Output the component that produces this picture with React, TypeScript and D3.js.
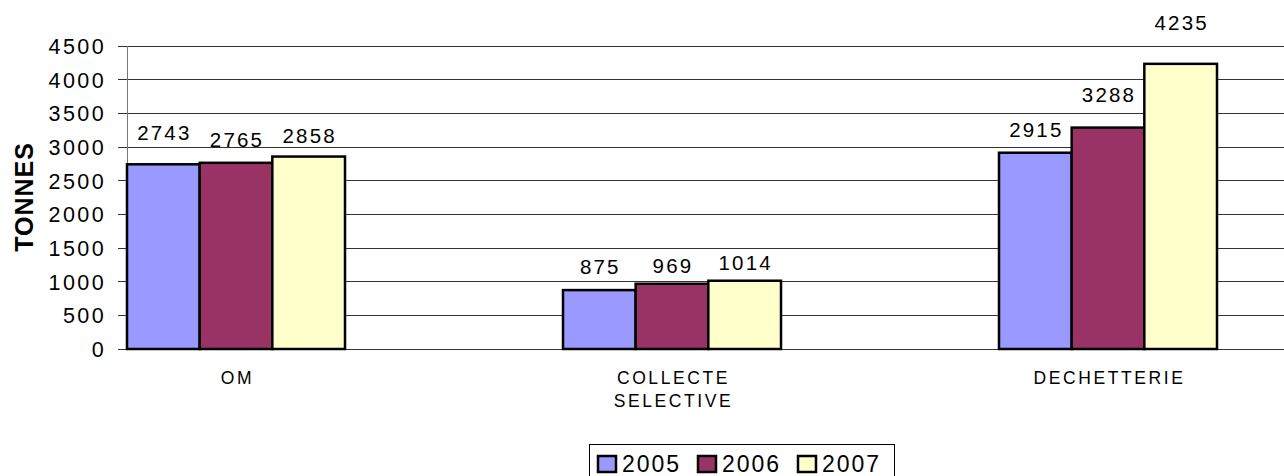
import React from 'react'
import * as d3 from 'd3'

const categories = ['OM', 'COLLECTE SELECTIVE', 'DECHETTERIE']
const years = ['2005', '2006', '2007']
const values2005 = [2743, 875, 2915]
const values2006 = [2765, 969, 3288]
const values2007 = [2858, 1014, 4235]
const yTicks = [0, 500, 1000, 1500, 2000, 2500, 3000, 3500, 4000, 4500]

const colors = ['#9999FF', '#993366', '#FFFFCC']
// label lift above each bar (px), the original chart nudges them to avoid overlap
const labelLift = [
	[24, 16, 14],
	[16, 11, 11],
	[16, 26, 34],
]

const W = 1284
const H = 476
const FONT = '"Liberation Sans", Arial, sans-serif'

export default function App() {
	const series = [values2005, values2006, values2007]

	const x = d3.scaleBand<string>()
		.domain(categories)
		.range([127, 1217])
		.paddingInner(0.5)
		.paddingOuter(0)

	const xInner = d3.scaleBand<string>()
		.domain(years)
		.range([0, x.bandwidth()])

	const y = d3.scaleLinear()
		.domain([0, 4500])
		.range([349, 46])

	return (
		<svg width={W} height={H} style={{position: 'absolute', left: 0, top: 0}} fontFamily={FONT}>
			<rect width={W} height={H} fill="#fff" />

			{/* grid */}
			{yTicks.map(t => (
				<line key={`g-${t}`} x1={127} x2={W} y1={y(t)} y2={y(t)} stroke="#333" strokeWidth={1} shapeRendering="crispEdges" />
			))}
			<line x1={127} x2={127} y1={y(4500)} y2={y(0)} stroke="#777" strokeWidth={1} shapeRendering="crispEdges" />
			{yTicks.map(t => (
				<g key={`t-${t}`}>
					<line x1={118} x2={127} y1={y(t)} y2={y(t)} stroke="#333" shapeRendering="crispEdges" />
					<text x={106} y={y(t)} dy="0.37em" textAnchor="end" fontSize={21.5} letterSpacing={2.4}>{t}</text>
				</g>
			))}

			{/* bars */}
			{categories.map((c, ci) => (
				<g key={c} transform={`translate(${x(c)},0)`}>
					{series.map((vals, si) => (
						<rect
							key={`b-${si}`}
							x={xInner(years[si])}
							y={y(vals[ci])}
							width={xInner.bandwidth()}
							height={y(0) - y(vals[ci])}
							fill={colors[si]}
							stroke="#000"
							strokeWidth={2.5}
						/>
					))}
					{series.map((vals, si) => (
						<text
							key={`l-${si}`}
							x={(xInner(years[si]) || 0) + xInner.bandwidth() / 2 + 1}
							y={y(vals[ci]) - labelLift[ci][si]}
							textAnchor="middle"
							fontSize={20.5}
							letterSpacing={2.2}
						>{vals[ci]}</text>
					))}
				</g>
			))}

			{/* category labels */}
			{categories.map(c => {
				const words = c.split(' ')
				return (
					<text key={`c-${c}`} x={(x(c) || 0) + x.bandwidth() / 2 + 1.5} y={383.5} textAnchor="middle" fontSize={17.5} letterSpacing={2.6}>
						{words.map((w, i) => (
							<tspan key={w} x={(x(c) || 0) + x.bandwidth() / 2 + 1.5} dy={i === 0 ? 0 : 23.5}>{w}</tspan>
						))}
					</text>
				)
			})}

			{/* y title */}
			<text transform="translate(33,197) rotate(-90)" textAnchor="middle" fontSize={25} fontWeight="bold" letterSpacing={1}>TONNES</text>

			{/* legend */}
			<rect x={589.5} y={444.5} width={305} height={40} fill="#fff" stroke="#000" strokeWidth={1} />
			{years.map((yr, i) => (
				<g key={`lg-${yr}`} transform={`translate(${598 + i * 100},0)`}>
					<rect x={0} y={456} width={18} height={16} fill={colors[i]} stroke="#000" strokeWidth={2.5} />
					<text x={24} y={472} fontSize={23} letterSpacing={2}>{yr}</text>
				</g>
			))}
		</svg>
	)
}
